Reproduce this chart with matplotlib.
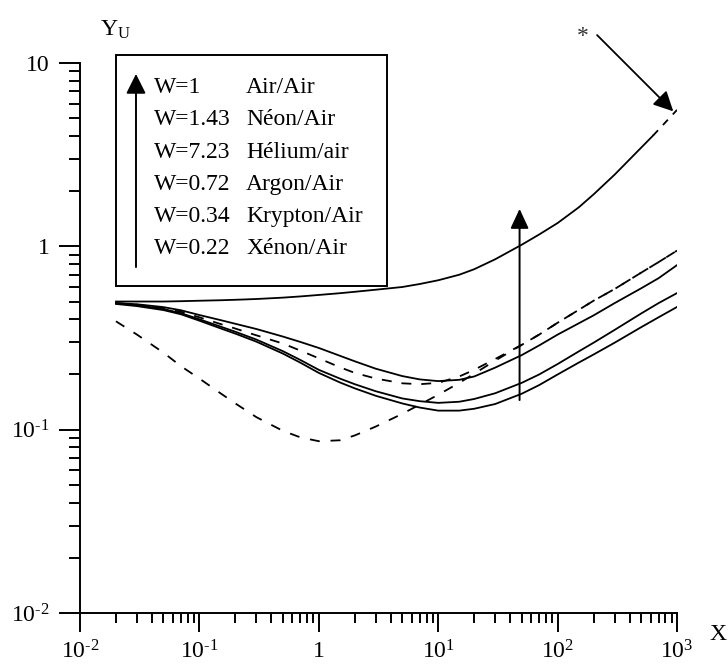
import matplotlib
matplotlib.use('Agg')
import matplotlib.pyplot as plt
from matplotlib.ticker import LogLocator, NullFormatter
from matplotlib.patches import Rectangle, FancyArrowPatch

plt.rcParams['font.family'] = 'Liberation Serif'
plt.rcParams['mathtext.fontset'] = 'custom'
plt.rcParams['mathtext.rm'] = 'Liberation Serif'

# abscisse commune (X)
x = [0.02, 0.03, 0.05, 0.07, 0.1, 0.15, 0.2, 0.3, 0.5, 0.7, 1, 1.5, 2, 3, 5, 7,
     10, 15, 20, 30, 50, 70, 100, 150, 200, 300, 500, 700, 1000]

# courbe du haut (trait plein jusqu'a ~630, puis tirets)
top_x = [0.02, 0.03, 0.05, 0.07, 0.1, 0.15, 0.2, 0.3, 0.5, 0.7, 1, 1.5, 2, 3, 5, 7,
         10, 15, 20, 30, 50, 70, 100, 150, 200, 300, 500, 630]
top_y = [0.50, 0.50, 0.50, 0.502, 0.505, 0.508, 0.511, 0.516, 0.525, 0.533, 0.543, 0.555, 0.565, 0.58,
         0.60, 0.623, 0.653, 0.70, 0.75, 0.85, 1.02, 1.16, 1.34, 1.63, 1.92, 2.46, 3.45, 4.02]
top_tail_x = [630, 1000]
top_tail_y = [4.02, 5.55]

# courbes du bas
solid_b = [0.49, 0.483, 0.466, 0.448, 0.422, 0.396, 0.378, 0.354, 0.322, 0.301, 0.279, 0.253, 0.236, 0.215,
           0.196, 0.188, 0.184, 0.187, 0.195, 0.218, 0.255, 0.288, 0.33, 0.38, 0.42, 0.49, 0.59, 0.67, 0.79]
solid_d = [0.49, 0.478, 0.455, 0.432, 0.40, 0.365, 0.342, 0.31, 0.268, 0.24, 0.212, 0.19, 0.177, 0.162,
           0.148, 0.143, 0.14, 0.142, 0.147, 0.158, 0.18, 0.2, 0.228, 0.267, 0.298, 0.35, 0.43, 0.49, 0.556]
solid_e = [0.485, 0.472, 0.449, 0.426, 0.393, 0.357, 0.334, 0.302, 0.26, 0.232, 0.204, 0.181, 0.168, 0.153,
           0.139, 0.132, 0.127, 0.127, 0.13, 0.138, 0.157, 0.175, 0.2, 0.232, 0.257, 0.298, 0.362, 0.41, 0.467]
dash_c = [0.49, 0.48, 0.46, 0.44, 0.41, 0.377, 0.356, 0.327, 0.295, 0.27, 0.245, 0.219, 0.204, 0.19,
          0.179, 0.177, 0.18, 0.195, 0.212, 0.243, 0.29, 0.33, 0.383, 0.45, 0.505, 0.585, 0.718, 0.82, 0.948]
dash_f = [0.39, 0.33, 0.263, 0.222, 0.19, 0.158, 0.139, 0.117, 0.0985, 0.0908, 0.0865, 0.0875, 0.093, 0.104,
          0.122, 0.137, 0.155, 0.18, 0.202, 0.238, 0.29, 0.33, 0.383, 0.45, 0.505, 0.585, 0.718, 0.82, 0.948]

# legende
legend_w = ['W=1', 'W=1.43', 'W=7.23', 'W=0.72', 'W=0.34', 'W=0.22']
legend_gas = ['Air/Air', 'Néon/Air', 'Hélium/air', 'Argon/Air', 'Krypton/Air', 'Xénon/Air']

# fleches
arrow_x = 48
arrow_y = [0.145, 1.6]
star_from = (214, 14.2)
star_to = (930, 5.45)
star_text = (163, 14.0)

x_ticks = [0.01, 0.1, 1, 10, 100, 1000]
x_tick_labels = ['$\\mathregular{10^{\u20102}}$', '$\\mathregular{10^{\u20101}}$', '1',
                 r'$\mathregular{10^{1}}$', r'$\mathregular{10^{2}}$', r'$\mathregular{10^{3}}$']
y_ticks = [0.01, 0.1, 1, 10]
y_tick_labels = ['$\\mathregular{10^{\u20102}}$', '$\\mathregular{10^{\u20101}}$', '1', '10']

fs = 17
lw = 1.3

fig = plt.figure(figsize=(7.28, 6.66), dpi=100)
ax = fig.add_axes([0.1099, 0.0796, 0.8201, 0.8258])
ax.set_xscale('log')
ax.set_yscale('log')
ax.set_xlim(0.01, 1000)
ax.set_ylim(0.01, 10)

ax.plot(top_x, top_y, color='black', lw=lw)
ax.plot(top_tail_x, top_tail_y, color='black', lw=lw, dashes=(4, 4))
ax.plot(x, solid_b, color='black', lw=lw)
ax.plot(x, solid_d, color='black', lw=lw)
ax.plot(x, solid_e, color='black', lw=lw)
ax.plot(x, dash_c, color='black', lw=lw, dashes=(5.5, 5.5))
ax.plot(x, dash_f, color='black', lw=lw, dashes=(5.5, 6))

# fleche verticale
ax.annotate('', xy=(arrow_x, arrow_y[1]), xytext=(arrow_x, arrow_y[0]),
            arrowprops=dict(arrowstyle='-|>,head_length=0.6,head_width=0.28',
                            color='black', lw=1.4, shrinkA=0, shrinkB=0, mutation_scale=20))
# fleche *
ax.annotate('', xy=star_to, xytext=star_from, annotation_clip=False,
            arrowprops=dict(arrowstyle='-|>,head_length=0.6,head_width=0.3',
                            color='black', lw=1.3, shrinkA=0, shrinkB=0, mutation_scale=20))
ax.text(star_text[0], star_text[1], '*', fontsize=fs, ha='center', va='center', color='#333333')

# axes
for s in ['top', 'right']:
    ax.spines[s].set_visible(False)
for s in ['left', 'bottom']:
    ax.spines[s].set_linewidth(1.4)

ax.set_xticks(x_ticks)
ax.set_xticklabels(x_tick_labels)
ax.set_yticks(y_ticks)
ax.set_yticklabels(y_tick_labels)
ax.xaxis.set_minor_locator(LogLocator(base=10, subs=range(2, 10), numticks=20))
ax.yaxis.set_minor_locator(LogLocator(base=10, subs=range(2, 10), numticks=20))
ax.xaxis.set_minor_formatter(NullFormatter())
ax.yaxis.set_minor_formatter(NullFormatter())
ax.tick_params(axis='x', which='major', direction='out', length=14, width=1.4, pad=6, labelsize=fs)
ax.tick_params(axis='x', which='minor', direction='out', length=7, width=1.4)
ax.tick_params(axis='y', which='major', direction='out', length=15, width=1.4, pad=7, labelsize=fs)
ax.tick_params(axis='y', which='minor', direction='out', length=8, width=1.4)

# titres d'axes
fig.text(0.137, 0.947, r'$\mathregular{Y_U}$', fontsize=fs, ha='left', va='baseline')
fig.text(0.974, 0.039, 'X', fontsize=fs, ha='left', va='baseline')

# cadre de legende
fig.add_artist(Rectangle((0.1593, 0.5706), 0.3723, 0.3468, transform=fig.transFigure,
                         fill=False, edgecolor='black', lw=1.4))
for i, (w, g) in enumerate(zip(legend_w, legend_gas)):
    yb = 1 - (93 + 32.3 * i) / 666
    fig.text(0.2115, yb, w, fontsize=fs, ha='left', va='baseline')
    fig.text(0.3379, yb, g, fontsize=fs, ha='left', va='baseline')
fig.add_artist(FancyArrowPatch(
    (0.1868, 0.599), (0.1868, 0.889), transform=fig.transFigure,
    arrowstyle='-|>,head_length=0.6,head_width=0.3', mutation_scale=20,
    color='black', lw=1.4, shrinkA=0, shrinkB=0))

fig.savefig('out.png', dpi=100)
